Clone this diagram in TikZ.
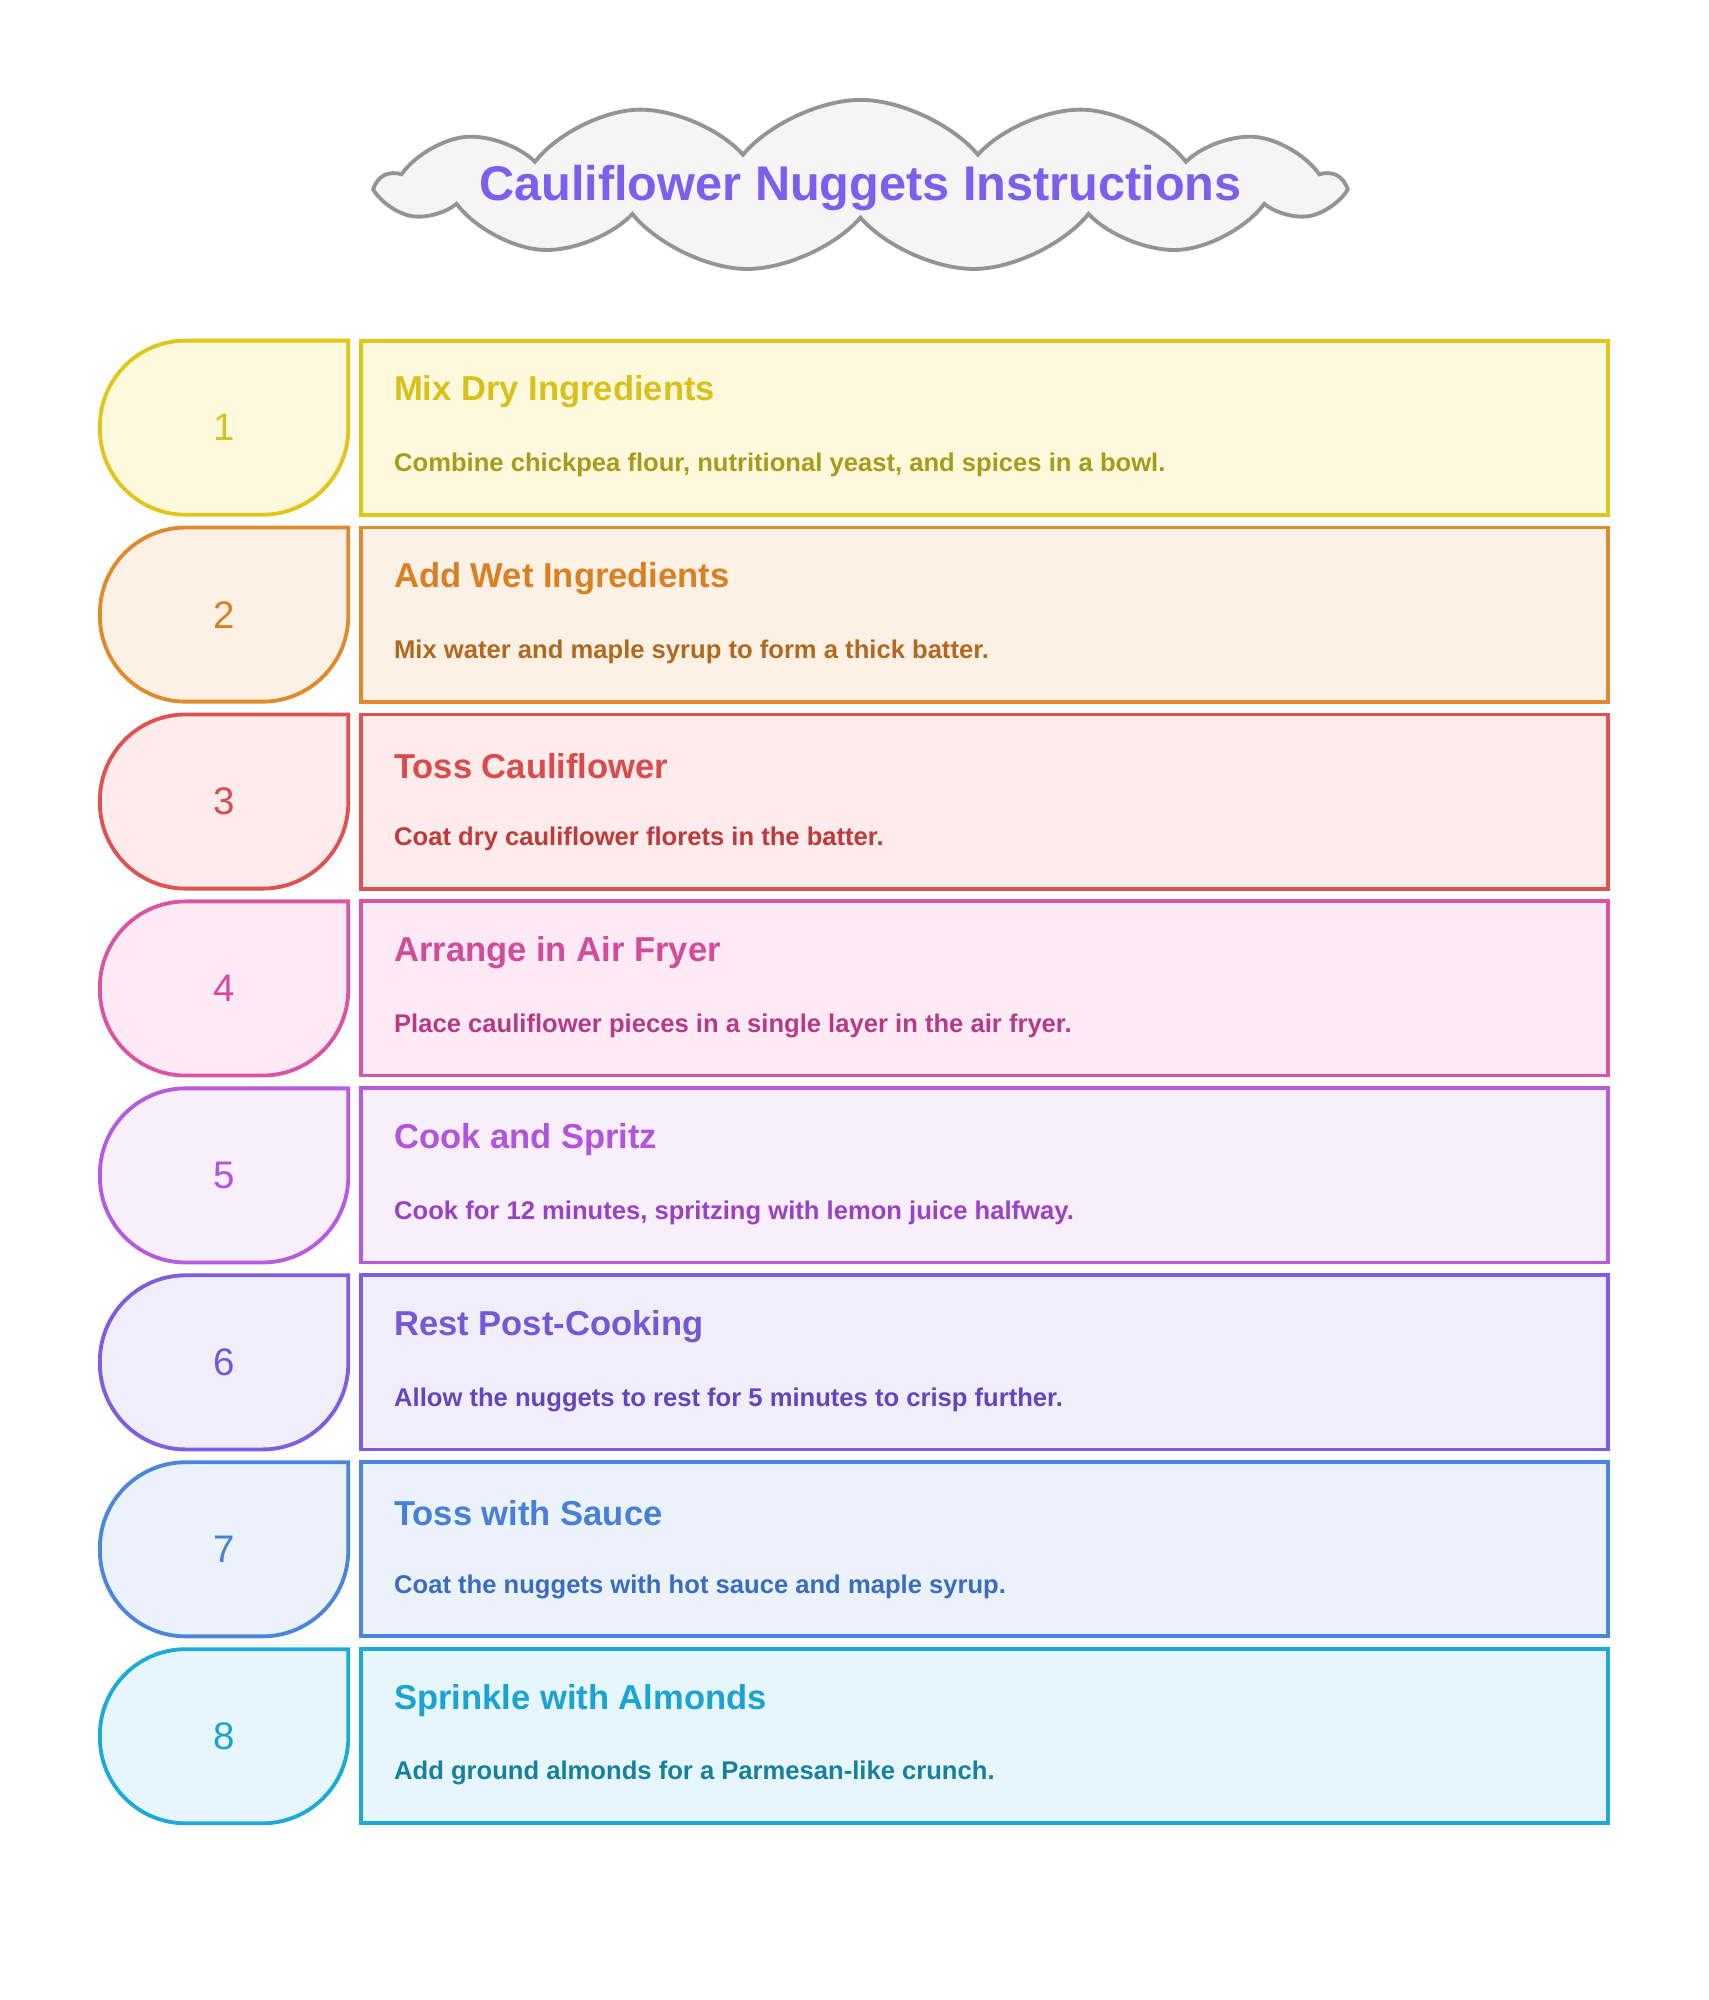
\documentclass[tikz,border=0pt]{standalone}
\usepackage{fontspec}
\setmainfont{Liberation Sans}
\usetikzlibrary{shapes.symbols}
\definecolor{ttl}{HTML}{7D5FF0}
\definecolor{sA}{HTML}{E0C619}\definecolor{fA}{HTML}{FEF9DC}\definecolor{hA}{HTML}{D8C11A}\definecolor{dA}{HTML}{A89A1A}
\definecolor{sB}{HTML}{E08A2E}\definecolor{fB}{HTML}{FDF1E6}\definecolor{hB}{HTML}{D98022}\definecolor{dB}{HTML}{B0691F}
\definecolor{sC}{HTML}{E05252}\definecolor{fC}{HTML}{FDECEB}\definecolor{hC}{HTML}{DC4B4B}\definecolor{dC}{HTML}{C03A3A}
\definecolor{sD}{HTML}{DB54A3}\definecolor{fD}{HTML}{FDEAF5}\definecolor{hD}{HTML}{D44B9C}\definecolor{dD}{HTML}{B83A86}
\definecolor{sE}{HTML}{B55BE0}\definecolor{fE}{HTML}{F8EEFC}\definecolor{hE}{HTML}{B055DC}\definecolor{dE}{HTML}{9A42C4}
\definecolor{sF}{HTML}{7E5DE0}\definecolor{fF}{HTML}{F1EEFC}\definecolor{hF}{HTML}{7458D6}\definecolor{dF}{HTML}{6445C0}
\definecolor{sG}{HTML}{4C85DE}\definecolor{fG}{HTML}{ECF2FC}\definecolor{hG}{HTML}{4680D8}\definecolor{dG}{HTML}{3A6CC0}
\definecolor{sH}{HTML}{1EAAD8}\definecolor{fH}{HTML}{E6F6FC}\definecolor{hH}{HTML}{1AA3D4}\definecolor{dH}{HTML}{17809F}
\begin{document}
\begin{tikzpicture}[x=1pt,y=-1pt,line width=3pt,
  headtxt/.style={anchor=west,font=\fontsize{27}{31}\selectfont\bfseries},
  desctxt/.style={anchor=west,font=\fontsize{20}{24}\selectfont\bfseries},
  numtxt/.style={font=\fontsize{30}{34}\selectfont}]
\useasboundingbox (0,0) rectangle (1334,1562);
\node[cloud,cloud puffs=13,cloud puff arc=100,aspect=4.6,draw=gray!80!black!70,fill=gray!8,line width=3pt,
  minimum width=750,minimum height=134,inner sep=0] (cl) at (672,145) {};
\node[font=\fontsize{38}{44}\selectfont\bfseries,text=ttl] (title) at (672,147) {Cauliflower Nuggets Instructions};
\foreach \i/\c/\h/\d [count=\k from 0] in {
 1/A/Mix Dry Ingredients/{Combine chickpea flour, nutritional yeast, and spices in a bowl.},
 2/B/Add Wet Ingredients/{Mix water and maple syrup to form a thick batter.},
 3/C/Toss Cauliflower/{Coat dry cauliflower florets in the batter.},
 4/D/Arrange in Air Fryer/{Place cauliflower pieces in a single layer in the air fryer.},
 5/E/Cook and Spritz/{Cook for 12 minutes, spritzing with lemon juice halfway.},
 6/F/Rest Post-Cooking/{Allow the nuggets to rest for 5 minutes to crisp further.},
 7/G/Toss with Sauce/{Coat the nuggets with hot sauce and maple syrup.},
 8/H/Sprinkle with Almonds/{Add ground almonds for a Parmesan-like crunch.}}{
 \pgfmathsetmacro\t{266+146*\k}
 \draw[draw=s\c,fill=f\c,rounded corners=67] (272,\t) -- (78,\t) -- (78,\t+136) -- (272,\t+136) [sharp corners] -- cycle;
 \node[numtxt,text=h\c] (n\i) at (175,\t+68) {\i};
 \draw[draw=s\c,fill=f\c] (282,\t) rectangle (1256,\t+136);
 \node[headtxt,text=h\c] (h\i) at (303,\t+40) {\h};
 \node[desctxt,text=d\c] (d\i) at (303,\t+97) {\d};
}
\end{tikzpicture}
\end{document}
